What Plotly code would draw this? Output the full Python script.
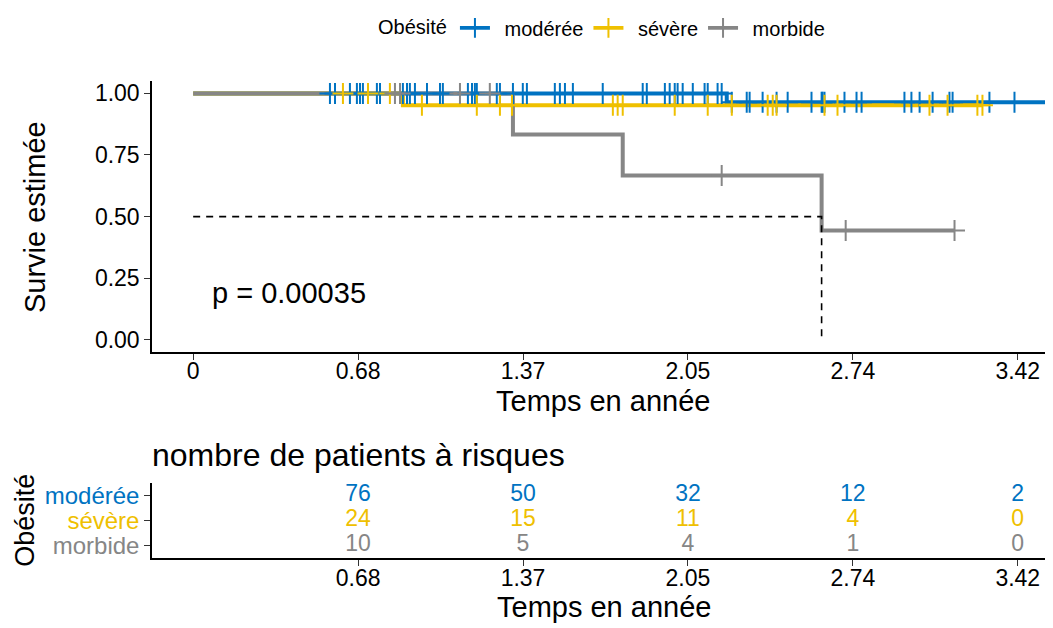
import numpy as np
import plotly.graph_objects as go

# ---------------- data ----------------
groups = ["modérée", "sévère", "morbide"]
colors = ["#0073C2", "#EFC000", "#868686"]

# Kaplan-Meier step curves: times at which the curve changes, survival after the change
moderee_step_time = [0.0, 2.216]
moderee_step_surv = [1.0, 0.964]
moderee_end_time = 3.65
moderee_censor = [0.568, 0.589, 0.651, 0.680, 0.693, 0.705, 0.763, 0.776, 0.871, 0.888,
                  0.900, 0.921, 0.971, 1.025, 1.037, 1.141, 1.158, 1.170, 1.178, 1.261,
                  1.274, 1.328, 1.369, 1.386, 1.502, 1.523, 1.544, 1.577, 1.701, 1.867,
                  1.884, 1.959, 1.979, 2.000, 2.012, 2.033, 2.075, 2.124, 2.137, 2.178,
                  2.195, 2.237, 2.299, 2.311, 2.365, 2.423, 2.469, 2.568, 2.610, 2.614,
                  2.622, 2.705, 2.755, 2.776, 2.954, 2.983, 3.017, 3.071, 3.141, 3.154,
                  3.307, 3.411]

severe_step_time = [0.0, 0.871]
severe_step_surv = [1.0, 0.952]
severe_end_time = 3.278
severe_censor = [0.622, 0.726, 0.817, 0.950, 1.178, 1.274, 1.324, 1.743, 1.763, 1.784,
                 2.000, 2.137, 2.237, 2.386, 2.407, 2.423, 2.622, 2.676, 3.058, 3.133,
                 3.257, 3.278]

morbide_step_time = [0.0, 1.328, 1.784, 2.610]
morbide_step_surv = [1.0, 0.833, 0.667, 0.444]
morbide_end_time = 3.162
morbide_censor = [0.838, 0.859, 1.108, 1.232, 2.195, 2.710, 3.162]

median_time = 2.610
median_surv = 0.5
pval_text = "p = 0.00035"

# axis ticks (days 250, 500, ... expressed in years)
time_ticks = [0.0, 0.6849, 1.3699, 2.0548, 2.7397, 3.4247]
time_tick_labels = ["0", "0.68", "1.37", "2.05", "2.74", "3.42"]
surv_ticks = [0.0, 0.25, 0.5, 0.75, 1.0]
surv_tick_labels = ["0.00", "0.25", "0.50", "0.75", "1.00"]

# number at risk table
risk_times = [0.6849, 1.3699, 2.0548, 2.7397, 3.4247]
risk_labels = ["0.68", "1.37", "2.05", "2.74", "3.42"]
risk_moderee = [76, 50, 32, 12, 2]
risk_severe = [24, 15, 11, 4, 0]
risk_morbide = [10, 5, 4, 1, 0]

# ---------------- figure ----------------
W, H = 1053, 628
OFF = 8  # page body margin of the html page
FONT = "Liberation Sans, Arial, sans-serif"
x_range = [-0.171, 3.571]


def px_x(p):
    return (p - OFF) / W


def px_y(p):
    return 1 - (p - OFF) / H


curves = [
    (moderee_step_time, moderee_step_surv, moderee_end_time, moderee_censor),
    (severe_step_time, severe_step_surv, severe_end_time, severe_censor),
    (morbide_step_time, morbide_step_surv, morbide_end_time, morbide_censor),
]

fig = go.Figure()

# step lines
for (st, ss, end, cens), name, col in zip(curves, groups, colors):
    xs = list(st) + [end]
    ys = list(ss) + [ss[-1]]
    fig.add_trace(go.Scatter(x=xs, y=ys, mode="lines", line=dict(color=col, width=4, shape="hv"),
                             name=name, legendgroup=name, showlegend=False,
                             xaxis="x", yaxis="y", hoverinfo="skip"))

# median reference lines
fig.add_trace(go.Scatter(x=[0, median_time, median_time], y=[median_surv, median_surv, 0],
                         mode="lines", line=dict(color="black", width=1.6, dash="7px,6px"),
                         showlegend=False, xaxis="x", yaxis="y", hoverinfo="skip"))

# censor marks
for (st, ss, end, cens), name, col in zip(curves, groups, colors):
    idx = np.searchsorted(np.array(st), np.array(cens), side="right") - 1
    cy = np.array(ss)[idx]
    fig.add_trace(go.Scatter(x=cens, y=cy, mode="markers",
                             marker=dict(symbol="cross-thin", size=15, color=col,
                                         line=dict(color=col, width=2)),
                             name=name, legendgroup=name, showlegend=False,
                             xaxis="x", yaxis="y", hoverinfo="skip"))

# legend entries (line with a + mark)
for name, col in zip(groups, colors):
    fig.add_trace(go.Scatter(x=[None], y=[None], mode="lines+markers",
                             line=dict(color=col, width=3.6),
                             marker=dict(symbol="line-ns", size=14, color=col,
                                         line=dict(color=col, width=2)),
                             name="\u00a0\u2009" + name, legendgroup=name, showlegend=True,
                             xaxis="x", yaxis="y"))

# risk table numbers
for row_y, vals, col in zip([2, 1, 0], [risk_moderee, risk_severe, risk_morbide], colors):
    fig.add_trace(go.Scatter(x=risk_times, y=[row_y] * len(risk_times), mode="text",
                             text=[str(v) for v in vals],
                             textfont=dict(color=col, size=23, family=FONT),
                             textposition="middle center",
                             showlegend=False, xaxis="x2", yaxis="y2", hoverinfo="skip"))

axis_common = dict(showgrid=False, zeroline=False, showline=True, linecolor="black",
                   linewidth=1.5, ticks="outside", ticklen=6, tickwidth=1.3,
                   tickcolor="#333333", tickfont=dict(size=23, color="black", family=FONT))

table_ticktext = [f"<span style='color:{c}'>{g}</span>" for g, c in zip(groups, colors)]

fig.update_layout(
    width=W, height=H,
    margin=dict(l=0, r=0, t=0, b=0),
    paper_bgcolor="white", plot_bgcolor="white",
    font=dict(family=FONT, color="black"),
    xaxis=dict(domain=[px_x(152), px_x(1053)], range=x_range, tickvals=time_ticks,
               ticktext=time_tick_labels, anchor="y", ticklabelstandoff=-8, **axis_common),
    yaxis=dict(domain=[px_y(348), px_y(73)], range=[-0.05, 1.05], tickvals=surv_ticks,
               ticktext=surv_tick_labels, anchor="x", **axis_common),
    xaxis2=dict(domain=[px_x(152), px_x(1053)], range=x_range, tickvals=risk_times,
                ticktext=risk_labels, anchor="y2", ticklabelstandoff=-7, **axis_common),
    yaxis2=dict(domain=[px_y(557), px_y(481)], range=[-0.5, 2.5], tickvals=[2, 1, 0],
                ticktext=table_ticktext, anchor="x2",
                **{**axis_common, "tickfont": dict(size=24, family=FONT)}),
    legend=dict(orientation="h", x=px_x(603), xanchor="center", y=px_y(19), yanchor="middle",
                title=dict(text="Obésité", side="left", font=dict(size=20, family=FONT)),
                font=dict(size=20, family=FONT, color="black"), bgcolor="rgba(0,0,0,0)"),
    showlegend=True,
)

annotations = [
    dict(text="Survie estimée", x=px_x(35), y=px_y(211), xref="paper", yref="paper",
         xanchor="center", yanchor="middle",
         textangle=-90, showarrow=False, font=dict(size=29, family=FONT)),
    dict(text="Temps en année", x=px_x(603), y=px_y(398), xref="paper", yref="paper",
         xanchor="center", yanchor="middle",
         showarrow=False, font=dict(size=29, family=FONT)),
    dict(text="Temps en année", x=px_x(604), y=px_y(607), xref="paper", yref="paper",
         xanchor="center", yanchor="middle",
         showarrow=False, font=dict(size=29, family=FONT)),
    dict(text="Obésité", x=px_x(25), y=px_y(519), xref="paper", yref="paper",
         xanchor="center", yanchor="middle",
         textangle=-90, showarrow=False, font=dict(size=27, family=FONT)),
    dict(text="nombre de patients à risques", x=px_x(150), y=px_y(452), xref="paper",
         yref="paper", xanchor="left", yanchor="middle", showarrow=False,
         font=dict(size=32, family=FONT)),
    dict(text=pval_text, x=0.07, y=0.19, xref="x", yref="y", xanchor="left", yanchor="middle",
         showarrow=False, font=dict(size=29, family=FONT)),
]
fig.update_layout(annotations=annotations)

fig.write_html("out.html")
